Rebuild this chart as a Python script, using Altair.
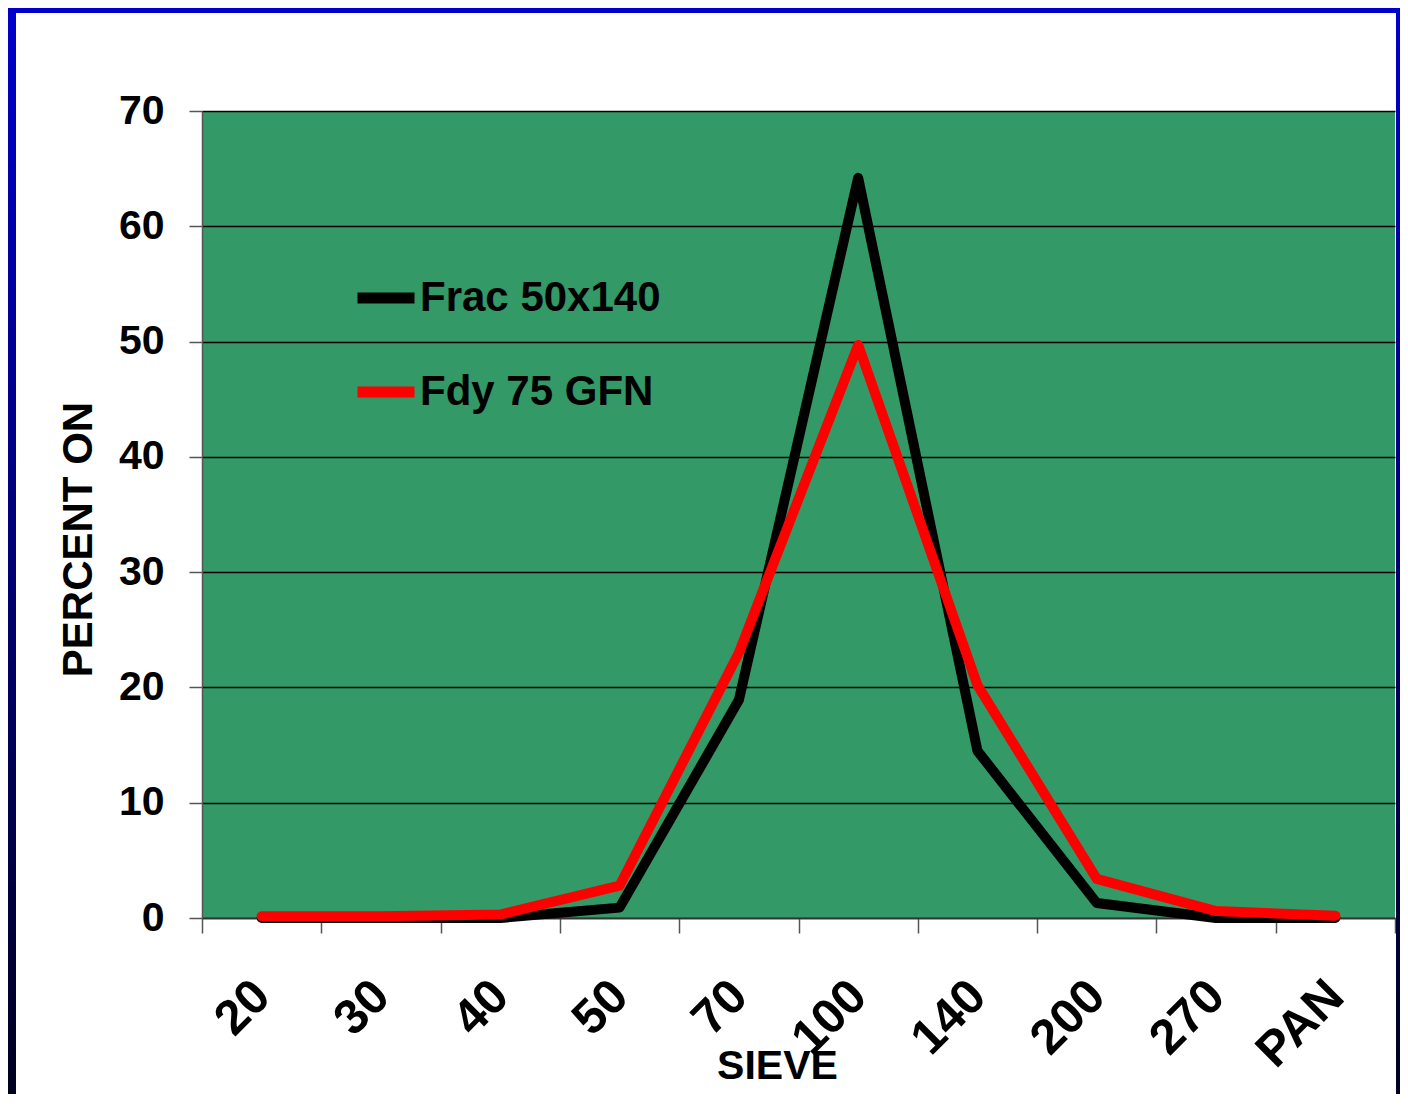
import json
import altair as alt
import pandas as pd

sieves = ["20", "30", "40", "50", "70", "100", "140", "200", "270", "PAN"]
frac_50x140 = [0.0, 0.0, 0.0, 0.9, 18.9, 64.2, 14.5, 1.3, 0.0, 0.0]
fdy_75_gfn = [0.15, 0.15, 0.3, 2.8, 23.0, 49.7, 20.2, 3.4, 0.6, 0.2]
series_names = ["Frac 50x140", "Fdy 75 GFN"]
series_colors = ["#000000", "#FF0000"]
y_ticks = [0, 10, 20, 30, 40, 50, 60, 70]

rows = []
for name, vals in zip(series_names, [frac_50x140, fdy_75_gfn]):
    for i, (s, v) in enumerate(zip(sieves, vals)):
        rows.append({"sieve": s, "idx": i, "series": name, "value": v})
df = pd.DataFrame(rows)

FONT = "Liberation Sans"
n = len(sieves)
tick_vals = [k * 0.5 for k in range(2 * n + 1)]
label_expr = ("datum.value % 1 == 0.5 ? " + json.dumps(sieves)
              + "[floor(datum.value)] : ''")

x_enc = alt.X(
    "xpos:Q",
    scale=alt.Scale(domain=[0, n], nice=False, zero=False),
    axis=alt.Axis(
        values=tick_vals,
        labelExpr=label_expr,
        tickOpacity={"condition": {"test": "datum.value % 1 == 0", "value": 1}, "value": 0},
        tickSize=15, tickColor="#555555", tickWidth=1.5,
        domainColor="#333333", domainWidth=1.5,
        grid=False,
        labelAngle=-45, labelAlign="right", labelBaseline="middle",
        labelPadding=55, labelFont=FONT, labelFontSize=49, labelFontWeight="bold",
        labelColor="black", labelOverlap=False, labelFlush=False,
        title="SIEVE", titleFont=FONT, titleFontSize=41, titleFontWeight="bold",
        titleColor="black", titleX=575, titleY=160, titleAlign="center",
        titleBaseline="alphabetic", titleLimit=1000,
    ),
)
y_enc = alt.Y(
    "value:Q",
    scale=alt.Scale(domain=[0, 70], nice=False),
    axis=alt.Axis(
        values=y_ticks,
        tickSize=13, tickColor="#555555", tickWidth=1.5,
        domainColor="#555555", domainWidth=1.5,
        grid=True, gridColor="#000000", gridWidth=1.5,
        labelPadding=25, labelFont=FONT, labelFontSize=41, labelFontWeight="bold",
        labelColor="black",
        title="PERCENT ON", titleFont=FONT, titleFontSize=42, titleFontWeight="bold",
        titleColor="black", titleX=-111, titleY=428, titleAngle=-90, titleAlign="center",
        titleBaseline="alphabetic", titleLimit=1000,
    ),
)
color_enc = alt.Color(
    "series:N",
    scale=alt.Scale(domain=series_names, range=series_colors),
    sort=series_names,
    legend=alt.Legend(
        title=None, orient="none", legendX=150, legendY=153,
        symbolType="stroke", symbolSize=3249, symbolStrokeWidth=11,
        labelFont=FONT, labelFontSize=42, labelFontWeight="bold", labelColor="black",
        labelOffset=0, labelLimit=0, rowPadding=38, padding=0,
    ),
)

base = alt.Chart(df).transform_calculate(xpos="datum.idx + 0.5")

lines = [
    base.transform_filter(alt.datum.series == name)
    .mark_line(strokeWidth=10, strokeCap="round", strokeJoin="round")
    .encode(x=x_enc, y=y_enc, color=color_enc)
    for name in series_names
]

grad = alt.LinearGradient(
    gradient="linear",
    stops=[alt.GradientStop(offset=0, color="#0000CC"),
           alt.GradientStop(offset=1, color="#000020")],
    x1=0, x2=0, y1=0, y2=1,
)
frame_data = alt.Data(values=[{}])
left_bar = alt.Chart(frame_data).mark_rect(color=grad).encode(
    x=alt.value(-194), x2=alt.value(-186), y=alt.value(-103), y2=alt.value(983))
right_bar = alt.Chart(frame_data).mark_rect(color=grad).encode(
    x=alt.value(1194), x2=alt.value(1198), y=alt.value(-103), y2=alt.value(983))
top_bar = alt.Chart(frame_data).mark_rect(color="#0000CC").encode(
    x=alt.value(-194), x2=alt.value(1198), y=alt.value(-103), y2=alt.value(-98))

chart = alt.layer(left_bar, right_bar, top_bar, *lines).properties(
    width=1193, height=807,
    autosize=alt.AutoSizeParams(type="none"),
    padding={"left": 194, "top": 103, "right": 5, "bottom": 176},
    background="white",
).configure_view(fill="#339966", strokeWidth=0)

chart.save("out.html", embed_options={"renderer": "svg", "actions": False})
